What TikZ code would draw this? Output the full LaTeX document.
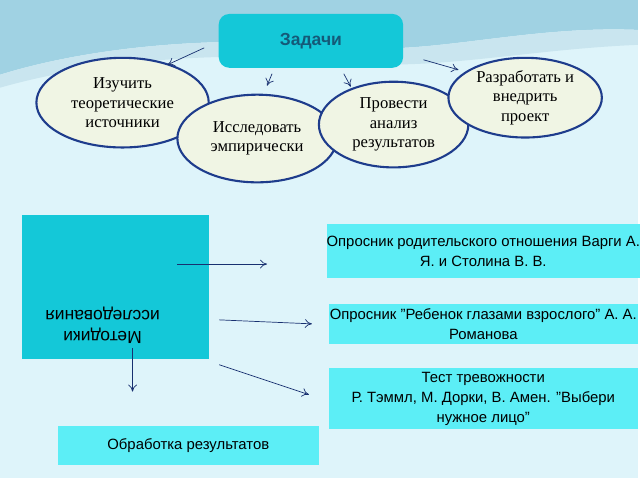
\documentclass[tikz,border=0pt]{standalone}
\usepackage{fontspec}
\setmainfont{Liberation Serif}
\setsansfont{Liberation Sans}
\usetikzlibrary{calc,shapes,positioning,arrows.meta}
\definecolor{bgBlue}{RGB}{222,244,250}
\definecolor{waveBlue}{RGB}{120,190,215}
\definecolor{taskCyan}{RGB}{20,200,216}
\definecolor{taskText}{RGB}{20,90,120}
\definecolor{ovalFill}{RGB}{240,245,228}
\definecolor{ovalLine}{RGB}{30,60,140}
\definecolor{methCyan}{RGB}{92,238,246}
\newcommand{\dq}{\char34}
\begin{document}
\begin{tikzpicture}[x=0.02cm,y=-0.02cm,font=\small,
          task/.style={
            ellipse,
            draw=ovalLine,
            line width=1.2pt,
            fill=ovalFill,
            align=center,
            inner sep=0pt,
            font=\fontsize{9.5}{11}\selectfont},
          method/.style={
            rectangle,
            fill=methCyan,
            align=center,
            inner sep=0pt,
            font=\sffamily\fontsize{8.5}{11.5}\selectfont},
          thinArrow/.style={-{To[length=4pt,width=5pt]},draw=ovalLine!80!black,thin} ]

          \fill[bgBlue] (0,0) rectangle (640,480);
          \fill[waveBlue!70] (0,0) -- (640,0) -- (640,30) .. controls (520,25) and (420,60) .. (330,45) .. controls (200,35) and (80,50) .. (0,75) -- cycle;
          \fill[waveBlue!40] (0,75) .. controls (80,50) and (200,35) .. (330,45) .. controls (420,60) and (520,25) .. (640,30) -- (640,45) .. controls (520,50) and (420,75) .. (330,60) .. controls (200,50) and (80,65) .. (0,88) -- cycle;

          \node[rectangle,rounded corners=6pt,fill=taskCyan,minimum width=3.7cm,minimum height=1.08cm,
                font=\sffamily\bfseries\fontsize{10}{12}\selectfont,text=taskText] (tasks) at (312,41) {Задачи};

          \node[task,minimum width=3.46cm,minimum height=1.8cm] (study) at (123,103) {Изучить\\теоретические\\источники};
          \node[task,minimum width=3.2cm,minimum height=1.76cm] (explore) at (258,139) {Исследовать\\эмпирически};
          \node[task,minimum width=3cm,minimum height=1.72cm] (analyse) at (395,125) {Провести\\анализ\\результатов};
          \node[task,minimum width=3.08cm,minimum height=1.6cm] (develop) at (527,98) {Разработать и\\внедрить\\проект};

          \coordinate (t1) at (205,48); \coordinate (t1e) at (168,65);
          \coordinate (t2) at (273,74); \coordinate (t2e) at (268,86);
          \coordinate (t3) at (345,74); \coordinate (t3e) at (352,87);
          \coordinate (t4) at (425,60); \coordinate (t4e) at (460,70);
          \draw[thinArrow] (t1) -- (t1e);
          \draw[thinArrow] (t2) -- (t2e);
          \draw[thinArrow] (t3) -- (t3e);
          \draw[thinArrow] (t4) -- (t4e);

          \node[rectangle,fill=taskCyan,minimum width=3.76cm,minimum height=2.9cm] (methods) at (116,288) {};
          \node[rotate=180,align=center,font=\sffamily\fontsize{10}{12}\selectfont] (methodsText) at (103,326) {Методики\\исследования};

          \node[method,minimum width=6.2cm,minimum height=1.08cm] (quest1) at (485,252) {Опросник родительского отношения Варги А.\\Я. и Столина В. В.};
          \node[method,minimum width=6.2cm,minimum height=0.8cm] (quest2) at (485,325) {Опросник \dq Ребенок глазами взрослого\dq{} А. А.\\Романова};
          \node[method,minimum width=6.2cm,minimum height=1.22cm] (anxiety) at (485,400) {Тест тревожности\\Р. Тэммл, М. Дорки, В. Амен. \dq Выбери\\нужное лицо\dq};
          \node[method,minimum width=5.24cm,minimum height=0.78cm] (results) at (189,447) {Обработка результатов};

          \coordinate (m1) at (178,265); \coordinate (m1e) at (268,265);
          \coordinate (m2) at (220,321); \coordinate (m2e) at (313,325);
          \coordinate (m3) at (220,366); \coordinate (m3e) at (310,396);
          \coordinate (m4) at (133,349); \coordinate (m4e) at (133,393);
          \draw[thinArrow] (m1) -- (m1e);
          \draw[thinArrow] (m2) -- (m2e);
          \draw[thinArrow] (m3) -- (m3e);
          \draw[thinArrow] (m4) -- (m4e);
        \end{tikzpicture}
\end{document}
